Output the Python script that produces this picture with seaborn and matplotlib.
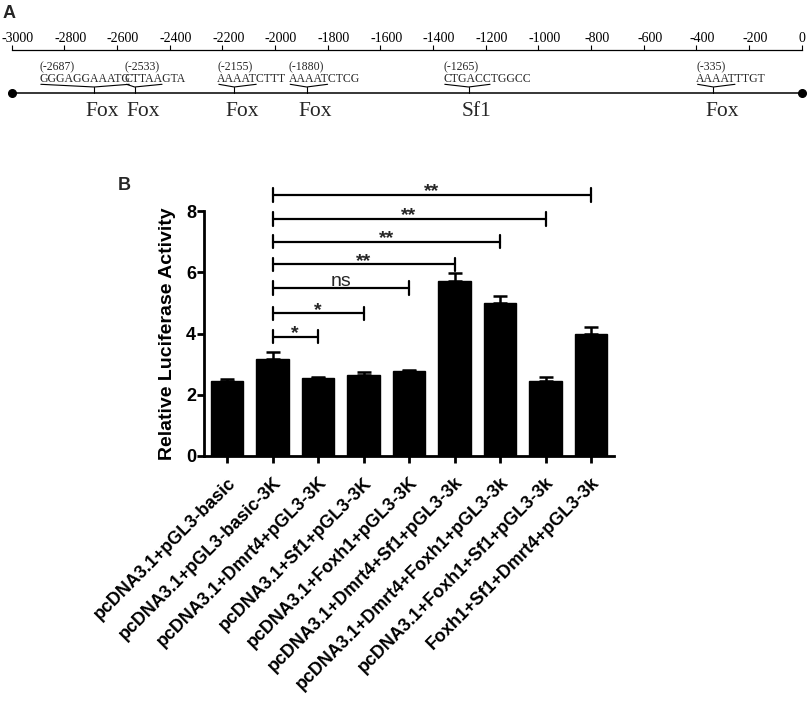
import numpy as np
import matplotlib
matplotlib.use("Agg")
import matplotlib.pyplot as plt
import matplotlib.transforms as mtransforms
import seaborn as sns

# Panel A: promoter map of the 3K fragment
ruler_ticks = list(range(-3000, 1, 200))
motif_pos = [-2687, -2533, -2155, -1880, -1265, -335]
motif_seq = ["GGGAGGAAATG", "CTTAAGTA", "AAAATCTTT", "AAAATCTCG", "CTGACCTGGCC", "AAAATTTGT"]
motif_start = [-2895, -2570, -2219, -1948, -1361, -401]
motif_core = [11, 5, 5, 5, 6, 5]
motif_factor = ["Fox", "Fox", "Fox", "Fox", "Sf1", "Fox"]

# Panel B: luciferase assay
groups = [
    "pcDNA3.1+pGL3-basic",
    "pcDNA3.1+pGL3-basic-3K",
    "pcDNA3.1+Dmrt4+pGL3-3K",
    "pcDNA3.1+Sf1+pGL3-3K",
    "pcDNA3.1+Foxh1+pGL3-3K",
    "pcDNA3.1+Dmrt4+Sf1+pGL3-3k",
    "pcDNA3.1+Dmrt4+Foxh1+pGL3-3k",
    "pcDNA3.1+Foxh1+Sf1+pGL3-3k",
    "Foxh1+Sf1+Dmrt4+pGL3-3k",
]
activity = [2.45, 3.17, 2.56, 2.65, 2.77, 5.72, 4.98, 2.46, 4.00]
sem = [0.08, 0.23, 0.03, 0.08, 0.05, 0.24, 0.23, 0.12, 0.22]
comp_from = 1
comp_to = [2, 3, 4, 5, 6, 7, 8]
comp_y = [3.90, 4.66, 5.48, 6.26, 7.00, 7.74, 8.53]
comp_label = ["*", "*", "ns", "**", "**", "**", "**"]

sns.set_theme(style="ticks")
plt.rcParams["font.family"] = ["Liberation Sans", "DejaVu Sans"]
serif = ["Liberation Serif", "DejaVu Serif"]

fig = plt.figure(figsize=(8.09, 7.02), dpi=100)
W, H = 809, 702

# ---------- panel A ----------
axA = fig.add_axes([0, 1 - 125 / H, 1, 75 / H])
axA.set_xlim(-3044.4, 27.7)
axA.set_ylim(125, 50)  # pixel rows from the top of the figure
for s in ["left", "right", "bottom"]:
    axA.spines[s].set_visible(False)
axA.spines["top"].set_bounds(-3000, 0)
axA.spines["top"].set_linewidth(0.9)
axA.spines["top"].set_color("black")
axA.xaxis.tick_top()
axA.set_xticks(ruler_ticks)
axA.set_xticklabels([str(t) for t in ruler_ticks])
axA.tick_params(axis="x", direction="out", length=3.6, width=0.8, pad=0.3,
                labelsize=10, labelfontfamily="Liberation Serif", colors="black")
# the printed labels sit a little right of their ticks
shift = mtransforms.ScaledTranslation(6 / 100, 0, fig.dpi_scale_trans)
for lab in axA.get_xticklabels():
    if lab.get_text().startswith("-"):
        lab.set_transform(lab.get_transform() + shift)
axA.set_yticks([])
axA.patch.set_alpha(0)

axA.plot([-3000, 0], [93.3, 93.3], color="black", lw=1.1, marker="o", markersize=5.5)

renderer = fig.canvas.get_renderer()
inv = axA.transData.inverted()
factor_tr = mtransforms.offset_copy(axA.transData, fig=fig, x=6, y=0, units="points")
for pos, seq, start, core, factor in zip(motif_pos, motif_seq, motif_start, motif_core, motif_factor):
    axA.text(start, 70.3, f"({pos})", family=serif, fontsize=8.5, ha="left", va="baseline")
    axA.text(start, 82.3, seq, family=serif, fontsize=8.5, ha="left", va="baseline")
    probe = axA.text(start, 82.3, seq[:core], family=serif, fontsize=8.5, ha="left", va="baseline")
    bb = probe.get_window_extent(renderer)
    probe.remove()
    x0 = inv.transform((bb.x0 + 1.5, 0))[0]
    x1 = inv.transform((bb.x1 - 1, 0))[0]
    axA.plot([x0, pos, x1], [84.3, 87.0, 84.3], color="black", lw=0.8)
    axA.plot([pos, pos], [87.0, 93.3], color="black", lw=0.8)
    axA.text(pos, 115.5, factor, transform=factor_tr, family=serif, fontsize=15.5,
             ha="center", va="baseline")

fig.text(3 / W, 1 - 18 / H, "A", fontsize=13, fontweight="bold", ha="left", va="baseline")

# ---------- panel B ----------
axB = fig.add_axes([204.25 / W, 1 - 456 / H, 409.5 / W, 245 / H])
sns.barplot(x=groups, y=activity, color="black", saturation=1, width=0.72,
            edgecolor="black", ax=axB)
xpos = np.arange(len(groups))
axB.errorbar(xpos, activity, yerr=[np.zeros(len(sem)), sem], fmt="none",
             ecolor="black", elinewidth=1.8, capsize=5, capthick=1.8, zorder=1)
axB.set_xlim(-0.5, 8.5)
axB.set_ylim(0, 8)
axB.set_yticks([0, 2, 4, 6, 8])
sns.despine(ax=axB)
for s in ["left", "bottom"]:
    axB.spines[s].set_linewidth(2)
    axB.spines[s].set_color("black")
axB.tick_params(axis="both", direction="out", length=5, width=2, colors="black")
axB.tick_params(axis="y", pad=1, labelsize=13)
axB.tick_params(axis="x", pad=8, labelsize=12.9)
for lab in axB.get_yticklabels():
    lab.set_fontweight("bold")
axB.set_xticks(xpos)
axB.set_xticklabels(groups, rotation=45, ha="right", rotation_mode="anchor",
                    fontweight="bold")
axB.set_ylabel("Relative Luciferase Activity", fontsize=14, fontweight="bold",
               labelpad=7, color="black")
axB.set_xlabel("")

half = 0.22
label_shift = {"*": -0.05, "**": -0.05, "ns": 0.07}
label_size = {"*": 14, "**": 14, "ns": 14}
label_weight = {"*": "bold", "**": "bold", "ns": "normal"}
for j, y, lab in zip(comp_to, comp_y, comp_label):
    axB.plot([comp_from, j], [y, y], color="black", lw=1.6, clip_on=False)
    axB.plot([comp_from, comp_from], [y - half, y + half], color="black", lw=1.6, clip_on=False)
    axB.plot([j, j], [y - half, y + half], color="black", lw=1.6, clip_on=False)
    axB.text((comp_from + j) / 2, y + label_shift[lab], lab, ha="center", va="baseline",
             fontsize=label_size[lab], fontweight=label_weight[lab], clip_on=False)

fig.text(118 / W, 1 - 190 / H, "B", fontsize=13, fontweight="bold", ha="left", va="baseline")

fig.savefig("out.png", dpi=100, facecolor="white")
